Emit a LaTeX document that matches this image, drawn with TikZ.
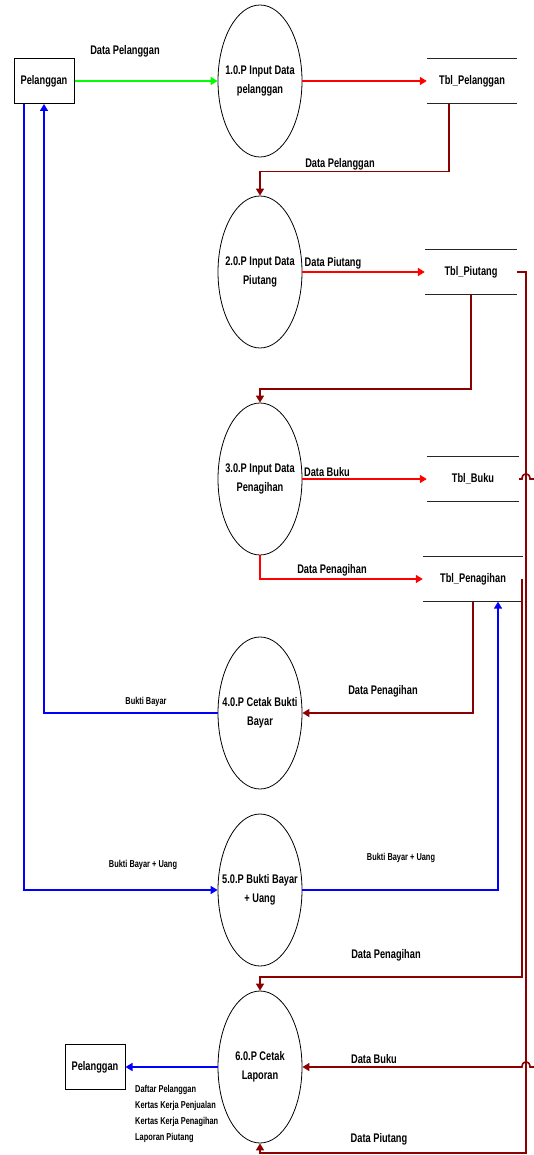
\documentclass[tikz,border=0pt]{standalone}
\usepackage{fontspec}
\newfontfamily\dfdfont{Liberation Sans}[FakeStretch=0.74]
\usetikzlibrary{arrows.meta,shapes.geometric}

\definecolor{flowgreen}{HTML}{00FF00}
\definecolor{flowred}{HTML}{FF0000}
\definecolor{flowdark}{HTML}{8B0000}
\definecolor{flowblue}{HTML}{0000FF}

\tikzset{
  proc/.style={draw,ellipse,line width=0.8pt,minimum width=84pt,minimum height=152pt,inner sep=0pt},
  ptext/.style={inner sep=0pt,align=center,font=\dfdfont\bfseries\fontsize{12.5}{19}\selectfont},
  entity/.style={draw,line width=1pt,minimum width=60pt,minimum height=45pt,inner sep=0pt,font=\dfdfont\bfseries\fontsize{12.5}{14}\selectfont},
  store/.style={minimum height=45pt,inner sep=0pt,font=\dfdfont\bfseries\fontsize{12.5}{14}\selectfont},
  storeline/.style={line width=1.2pt,black!85},
  lbl/.style={inner sep=0pt,font=\dfdfont\bfseries\fontsize{12.5}{14}\selectfont},
  slbl/.style={inner sep=0pt,font=\dfdfont\bfseries\fontsize{10}{15.8}\selectfont},
  gflow/.style={line width=1.6pt,flowgreen},
  rflow/.style={line width=1.6pt,flowred},
  dflow/.style={line width=1.6pt,flowdark},
  bflow/.style={line width=1.6pt,flowblue}
}

\begin{document}
\begin{tikzpicture}[x=1pt,y=-1pt,>={Triangle[length=7pt,width=8pt]}]
  \useasboundingbox (0,0) rectangle (534,1155);

  % processes
  \node[proc,label={[ptext]center:{1.0.P Input Data\\pelanggan}}] (p1) at (260,81) {};
  \node[proc,label={[ptext]center:{2.0.P Input Data\\Piutang}}] (p2) at (260,272) {};
  \node[proc,label={[ptext]center:{3.0.P Input Data\\Penagihan}}] (p3) at (260,479) {};
  \node[proc,label={[ptext]center:{4.0.P Cetak Bukti\\Bayar}}] (p4) at (260,713) {};
  \node[proc,label={[ptext]center:{5.0.P Bukti Bayar\\+ Uang}}] (p5) at (260,890) {};
  \node[proc,label={[ptext]center:{6.0.P Cetak\\Laporan}}] (p6) at (260,1067) {};

  % entities
  \node[entity] (ent1) at (44,81) {Pelanggan};
  \node[entity] (ent2) at (95,1067) {Pelanggan};

  % data stores
  \node[store,minimum width=90pt] (s1) at (472,81) {Tbl\_Pelanggan};
  \node[store,minimum width=92pt] (s2) at (471,272) {Tbl\_Piutang};
  \node[store,minimum width=92pt] (s3) at (473,479) {Tbl\_Buku};
  \node[store,minimum width=100pt] (s4) at (473,579) {Tbl\_Penagihan};
  \foreach \s in {s1,s2,s3,s4}
    \draw[storeline] (\s.north west) -- (\s.north east) (\s.south west) -- (\s.south east);

  % hops
  \coordinate (hopA) at (526,479);
  \coordinate (hopB) at (526,1067);

  % flows
  \draw[gflow,->] (ent1.east) -- (p1.west);
  \draw[rflow,->] (p1.east) -- (s1.west);
  \draw[dflow,->] ([xshift=-23pt]s1.south) -- ++(0,68) -| (p2.north);
  \draw[rflow,->] (p2.east) -- (s2.west);
  \draw[dflow,->] (s2.south) -- ++(0,94) -| (p3.north);
  \draw[rflow,->] (p3.east) -- (s3.west);
  \draw[rflow,->] (p3.south) |- (s4.west);
  \draw[dflow,->] (s4.south) |- (p4.east);
  \draw[bflow,->] (p4.west) -| (ent1.south);
  \draw[bflow,->] ([xshift=-20pt]ent1.south) |- (p5.west);
  \draw[bflow,->] (p5.east) -| ([xshift=25pt]s4.south);
  \draw[dflow,->] ([xshift=-1pt]s4.east) -- ++(0,398) -| (p6.north);
  \draw[dflow,->] (s2.east) -- ++(9,0) -- ++(0,881) -| (p6.south);
  \draw[dflow,->] (s3.east) -- ([xshift=-4pt]hopA)
    .. controls ([xshift=-4pt,yshift=7pt]hopA) and ([xshift=4pt,yshift=7pt]hopA) .. ([xshift=4pt]hopA)
    -- (545,479) -- (545,1067) -- ([xshift=4pt]hopB)
    .. controls ([xshift=4pt,yshift=7pt]hopB) and ([xshift=-4pt,yshift=7pt]hopB) .. ([xshift=-4pt]hopB)
    -- (p6.east);
  \draw[bflow,->] (p6.west) -- (ent2.east);

  % labels
  \node[lbl] (l1) at (125,51) {Data Pelanggan};
  \node[lbl] (l2) at (340,164) {Data Pelanggan};
  \node[lbl] (l3) at (333,263) {Data Piutang};
  \node[lbl] (l4) at (327,472) {Data Buku};
  \node[lbl] (l5) at (332,570) {Data Penagihan};
  \node[lbl] (l6) at (383,691) {Data Penagihan};
  \node[slbl] (l7) at (146,702) {Bukti Bayar};
  \node[slbl] (l8) at (143,865) {Bukti Bayar + Uang};
  \node[slbl] (l9) at (401,858) {Bukti Bayar + Uang};
  \node[lbl] (l10) at (386,955) {Data Penagihan};
  \node[lbl] (l11) at (374,1059) {Data Buku};
  \node[lbl] (l12) at (379,1139) {Data Piutang};
  \node[slbl,align=left,anchor=west] (l13) at (135,1114) {Daftar Pelanggan\\Kertas Kerja Penjualan\\Kertas Kerja Penagihan\\Laporan Piutang};
\end{tikzpicture}
\end{document}
